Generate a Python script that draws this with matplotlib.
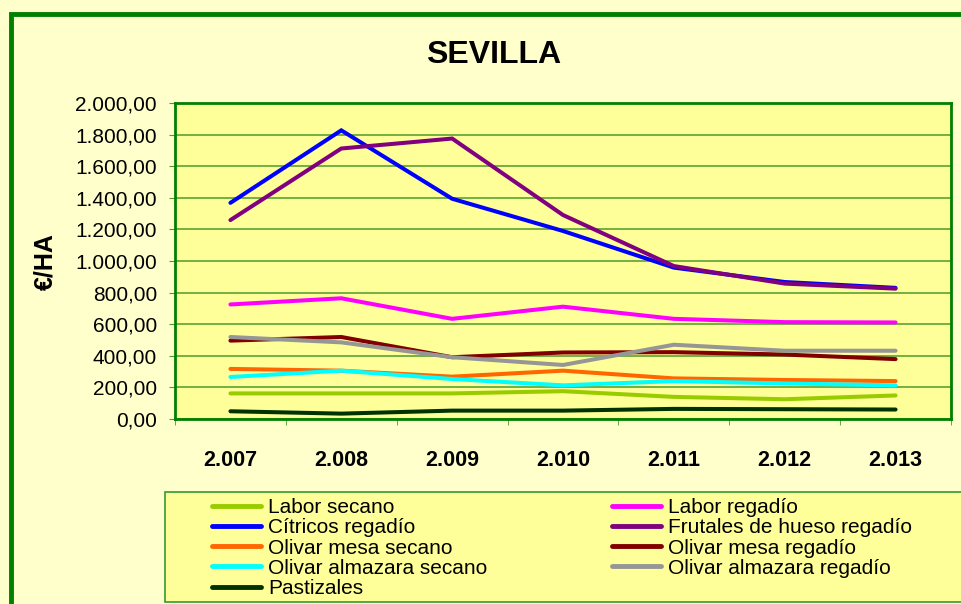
import matplotlib
matplotlib.use("Agg")
import matplotlib.pyplot as plt
from matplotlib.patches import Rectangle
from matplotlib.ticker import FuncFormatter, FixedLocator

plt.rcParams['font.family'] = ['Liberation Sans', 'DejaVu Sans']

# ---- datos (€/HA) ----
anios = ['2.007', '2.008', '2.009', '2.010', '2.011', '2.012', '2.013']

labor_secano = [162, 162, 162, 176, 140, 125, 149]
labor_regadio = [725, 764, 634, 711, 634, 613, 611]
citricos_regadio = [1368, 1827, 1394, 1190, 958, 867, 830]
frutales_hueso_regadio = [1259, 1712, 1775, 1291, 968, 857, 825]
olivar_mesa_secano = [317, 306, 268, 306, 257, 247, 240]
olivar_mesa_regadio = [496, 519, 391, 421, 423, 408, 379]
olivar_almazara_secano = [266, 306, 253, 213, 240, 225, 213]
olivar_almazara_regadio = [519, 485, 391, 342, 470, 432, 432]
pastizales = [49, 34, 53, 53, 64, 62, 60]

series = [
    ('Labor secano', labor_secano, '#99CC00'),
    ('Labor regadío', labor_regadio, '#FF00FF'),
    ('Cítricos regadío', citricos_regadio, '#0000FF'),
    ('Frutales de hueso regadío', frutales_hueso_regadio, '#800080'),
    ('Olivar mesa secano', olivar_mesa_secano, '#FF6600'),
    ('Olivar mesa regadío', olivar_mesa_regadio, '#800000'),
    ('Olivar almazara secano', olivar_almazara_secano, '#00FFFF'),
    ('Olivar almazara regadío', olivar_almazara_regadio, '#969696'),
    ('Pastizales', pastizales, '#003300'),
]

GREEN = '#008000'
GRID = '#4C9A2A'

fig = plt.figure(figsize=(9.61, 6.04), dpi=100)
fig.patch.set_facecolor('#FFFFCC')

# marco exterior verde
fig.add_artist(Rectangle((11 / 961, -0.2), 1.2, 1.2 - 14 / 604,
                         transform=fig.transFigure, fill=False,
                         edgecolor=GREEN, linewidth=3.5, zorder=0))
# recuadro de la leyenda
fig.add_artist(Rectangle((165 / 961, 2 / 604), 1.0, 110 / 604,
                         transform=fig.transFigure, facecolor='#FFFF99',
                         edgecolor='#339933', linewidth=1.2, zorder=0))

ax = fig.add_axes([175 / 961, 1 - 419 / 604, 776 / 961, 316 / 604])
ax.set_facecolor('#FFFF99')

x = list(range(len(anios)))
handles = []
for nombre, valores, color in series:
    h, = ax.plot(x, valores, color=color, linewidth=2.9, label=nombre,
                 solid_capstyle='round', solid_joinstyle='miter', zorder=3)
    handles.append(h)

ax.set_xlim(-0.5, len(anios) - 0.5)
ax.set_ylim(0, 2000)
ax.set_yticks(range(0, 2001, 200))
ax.yaxis.set_major_formatter(FuncFormatter(
    lambda v, p: f"{v:,.2f}".replace(',', 'X').replace('.', ',').replace('X', '.')))
ax.grid(axis='y', color=GRID, linewidth=1.1, zorder=1)
ax.set_axisbelow(True)

ax.set_xticks(x)
ax.set_xticklabels(anios, fontsize=15.5, fontweight='bold')
ax.xaxis.set_minor_locator(FixedLocator([i - 0.5 for i in range(len(anios) + 1)]))
ax.tick_params(axis='x', which='major', length=0, pad=22)
ax.tick_params(axis='x', which='minor', length=4, color=GRID, direction='out')
ax.tick_params(axis='y', length=4, color=GRID, direction='out', labelsize=15, pad=9)

for s in ax.spines.values():
    s.set_color(GREEN)
    s.set_linewidth(2)

fig.text(494 / 961, 1 - 55 / 604, 'SEVILLA', ha='center', va='center',
         fontsize=23, fontweight='bold')
fig.text(45 / 961, 1 - 262 / 604, '€/HA', ha='center', va='center',
         rotation=90, fontsize=18, fontweight='bold')

orden = [0, 2, 4, 6, 8, 1, 3, 5, 7]
leg = fig.legend([handles[i] for i in orden], [series[i][0] for i in orden],
                 ncol=2, loc='upper left',
                 bbox_to_anchor=(212 / 961, 1 - 498 / 604),
                 fontsize=15, frameon=False,
                 handlelength=2.35, handletextpad=0.34, labelspacing=0.06,
                 borderpad=0, borderaxespad=0, columnspacing=6.0)
for ln in leg.get_lines():
    ln.set_linewidth(3.5)

fig.savefig('out.png', dpi=100, facecolor=fig.get_facecolor())
